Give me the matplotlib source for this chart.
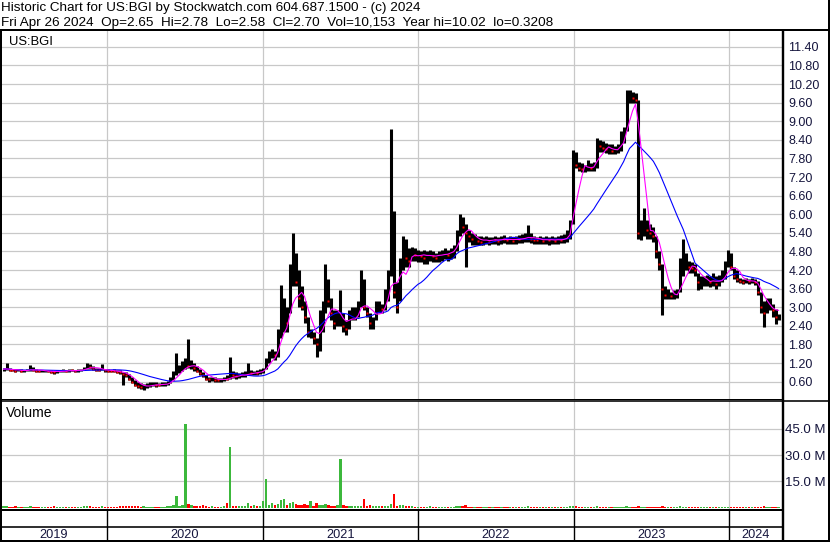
import matplotlib
matplotlib.use("Agg")
import matplotlib.pyplot as plt
from matplotlib.lines import Line2D
import numpy as np
import pandas as pd

plt.rcParams['font.family'] = ['Liberation Sans', 'DejaVu Sans']

# ---------------- data (weekly) ----------------
first_week = '2019-05-03'

high = [
    1.05, 1.20, 1.05, 1.02, 1.00, 1.01, 1.00, 0.99, 1.02, 1.15,
    1.08, 1.00, 0.99, 0.98, 0.99, 0.98, 0.96, 0.95, 0.98, 0.99,
    1.00, 0.99, 1.00, 1.01, 0.99, 1.00, 1.02, 1.08, 1.20, 1.18,
    1.12, 1.05, 1.03, 1.18, 1.02, 1.00, 0.99, 1.00, 0.98, 0.96,
    0.92, 0.90, 0.85, 0.75, 0.65, 0.60, 0.55, 0.52, 0.55, 0.58,
    0.60, 0.58, 0.56, 0.58, 0.60, 0.62, 0.75, 0.95, 1.52, 1.15,
    1.25, 1.35, 1.97, 1.30, 1.20, 1.10, 1.00, 0.92, 0.82, 0.75,
    0.76, 0.74, 0.72, 0.73, 0.75, 0.80, 1.40, 0.95, 0.90, 0.88,
    0.92, 0.95, 1.20, 0.98, 0.95, 0.96, 1.00, 1.05, 1.35, 1.60,
    1.65, 1.60, 2.30, 3.72, 3.30, 3.00, 4.40, 5.40, 4.75, 4.20,
    3.70, 3.20, 2.70, 2.30, 2.20, 2.00, 2.90, 3.20, 4.40, 3.90,
    3.30, 2.90, 2.90, 3.55, 2.80, 2.60, 2.90, 3.00, 3.00, 3.20,
    4.20, 3.90, 3.00, 2.80, 2.70, 3.20, 3.20, 3.10, 3.60, 4.20,
    8.75, 6.10, 3.80, 4.60, 5.30, 5.20, 4.90, 4.95, 4.90, 4.85,
    4.80, 4.85, 4.80, 4.85, 4.80, 4.75, 4.80, 4.85, 4.90, 4.85,
    4.90, 5.00, 5.50, 6.00, 5.90, 5.70, 5.50, 5.40, 5.35, 5.30,
    5.30, 5.28, 5.30, 5.25, 5.28, 5.30, 5.26, 5.30, 5.32, 5.28,
    5.30, 5.27, 5.30, 5.32, 5.35, 5.40, 5.65, 5.40, 5.30, 5.28,
    5.30, 5.28, 5.30, 5.27, 5.30, 5.28, 5.30, 5.32, 5.35, 5.50,
    5.80, 8.07, 8.00, 7.70, 7.65, 7.60, 7.75, 7.65, 7.70, 8.45,
    8.40, 8.35, 8.30, 8.28, 8.25, 8.20, 8.25, 8.70, 8.80, 10.00,
    10.02, 9.95, 9.90, 9.70, 5.80, 6.20, 5.80, 5.70, 5.60, 5.30,
    4.80, 4.40, 3.70, 3.60, 3.50, 3.55, 3.60, 4.60, 5.20, 4.75,
    4.50, 4.45, 4.40, 4.10, 4.00, 4.00, 4.05, 4.00, 4.10, 4.00,
    4.05, 4.20, 4.50, 4.85, 4.75, 4.30, 4.20, 3.95, 3.92, 3.95,
    3.92, 3.95, 3.90, 3.85, 3.50, 3.20, 3.30, 3.30, 3.10, 2.95,
    2.78,
]

low = [
    0.95, 0.96, 0.95, 0.93, 0.92, 0.93, 0.92, 0.91, 0.93, 0.95,
    0.94, 0.92, 0.90, 0.90, 0.91, 0.90, 0.88, 0.84, 0.89, 0.91,
    0.92, 0.91, 0.92, 0.93, 0.92, 0.92, 0.94, 0.96, 1.02, 1.02,
    0.98, 0.95, 0.94, 0.96, 0.92, 0.92, 0.91, 0.90, 0.88, 0.85,
    0.50, 0.75, 0.65, 0.55, 0.45, 0.40, 0.36, 0.33, 0.38, 0.42,
    0.45, 0.44, 0.45, 0.46, 0.47, 0.48, 0.55, 0.65, 0.80, 0.88,
    0.95, 1.00, 1.05, 1.00, 0.95, 0.90, 0.82, 0.75, 0.65, 0.60,
    0.62, 0.60, 0.58, 0.60, 0.62, 0.65, 0.70, 0.72, 0.70, 0.72,
    0.74, 0.76, 0.80, 0.80, 0.80, 0.82, 0.85, 0.88, 1.00, 1.20,
    1.35, 1.30, 1.40, 2.00, 2.20, 2.20, 2.80, 3.70, 3.70, 3.00,
    2.90, 2.50, 2.05, 2.00, 1.80, 1.40, 1.60, 2.20, 2.80, 3.00,
    2.60, 2.30, 2.40, 2.40, 2.20, 2.10, 2.30, 2.60, 2.60, 2.70,
    3.00, 2.90, 2.70, 2.30, 2.30, 2.60, 2.80, 2.80, 2.90, 3.20,
    4.00, 3.30, 2.80, 3.20, 4.20, 4.30, 4.30, 4.50, 4.50, 4.45,
    4.45, 4.40, 4.40, 4.50, 4.45, 4.45, 4.45, 4.50, 4.55, 4.50,
    4.55, 4.60, 4.80, 5.30, 5.40, 4.30, 5.10, 5.00, 5.00, 5.00,
    5.00, 5.02, 5.05, 5.00, 5.03, 5.05, 5.02, 5.05, 5.06, 5.04,
    5.05, 5.03, 5.05, 5.08, 5.08, 5.10, 5.10, 5.08, 5.05, 5.04,
    5.05, 5.03, 5.05, 5.02, 5.05, 5.04, 5.05, 5.06, 5.08, 5.10,
    5.20, 5.70, 7.50, 7.40, 7.35, 7.35, 7.40, 7.38, 7.40, 7.50,
    8.00, 8.00, 7.98, 7.95, 7.95, 7.95, 7.98, 8.05, 8.30, 8.70,
    9.60, 9.60, 9.60, 5.20, 5.17, 5.30, 5.20, 5.20, 5.10, 4.60,
    4.20, 2.75, 3.25, 3.25, 3.25, 3.25, 3.30, 3.50, 4.00, 4.20,
    4.10, 4.10, 4.00, 3.55, 3.60, 3.70, 3.70, 3.65, 3.70, 3.60,
    3.70, 3.80, 3.90, 4.30, 4.20, 3.90, 3.80, 3.78, 3.75, 3.78,
    3.76, 3.78, 3.72, 3.40, 2.80, 2.37, 2.80, 2.90, 2.70, 2.45,
    2.58,
]

close = [
    1.00, 1.02, 0.98, 0.97, 0.95, 0.98, 0.94, 0.95, 0.97, 1.05,
    0.98, 0.95, 0.93, 0.94, 0.95, 0.93, 0.92, 0.90, 0.94, 0.95,
    0.96, 0.94, 0.97, 0.96, 0.95, 0.97, 0.99, 1.04, 1.12, 1.08,
    1.02, 0.99, 0.98, 1.00, 0.96, 0.95, 0.94, 0.93, 0.92, 0.90,
    0.85, 0.80, 0.70, 0.60, 0.50, 0.45, 0.42, 0.45, 0.48, 0.50,
    0.52, 0.50, 0.49, 0.52, 0.54, 0.55, 0.70, 0.85, 1.00, 1.00,
    1.10, 1.15, 1.12, 1.15, 1.05, 0.95, 0.88, 0.80, 0.70, 0.68,
    0.70, 0.66, 0.64, 0.66, 0.70, 0.68, 0.85, 0.80, 0.78, 0.80,
    0.82, 0.85, 0.90, 0.88, 0.90, 0.89, 0.95, 1.00, 1.25, 1.50,
    1.55, 1.45, 2.00, 2.80, 2.90, 2.50, 3.40, 3.90, 3.80, 3.30,
    3.00, 2.70, 2.20, 2.25, 2.00, 1.80, 2.50, 2.80, 3.40, 3.20,
    2.80, 2.50, 2.60, 2.90, 2.40, 2.30, 2.70, 2.80, 2.90, 3.00,
    3.50, 3.00, 2.80, 2.50, 2.60, 3.00, 3.00, 2.95, 3.40, 4.00,
    5.00, 3.50, 3.00, 4.40, 4.80, 4.60, 4.50, 4.80, 4.70, 4.70,
    4.65, 4.60, 4.70, 4.70, 4.65, 4.60, 4.70, 4.75, 4.80, 4.70,
    4.80, 4.90, 5.40, 5.80, 5.60, 5.40, 5.30, 5.20, 5.20, 5.15,
    5.10, 5.18, 5.20, 5.12, 5.20, 5.18, 5.15, 5.22, 5.20, 5.16,
    5.20, 5.15, 5.22, 5.20, 5.25, 5.28, 5.30, 5.20, 5.18, 5.16,
    5.20, 5.15, 5.20, 5.16, 5.18, 5.15, 5.20, 5.18, 5.22, 5.35,
    5.70, 7.80, 7.60, 7.50, 7.45, 7.50, 7.55, 7.50, 7.60, 8.30,
    8.20, 8.15, 8.10, 8.10, 8.05, 8.05, 8.10, 8.60, 8.70, 9.80,
    9.80, 9.75, 9.70, 5.40, 5.50, 5.60, 5.50, 5.40, 5.30, 4.80,
    4.40, 3.60, 3.40, 3.40, 3.35, 3.40, 3.45, 4.30, 4.40, 4.40,
    4.30, 4.25, 4.20, 3.80, 3.80, 3.85, 3.90, 3.80, 3.90, 3.75,
    3.85, 4.00, 4.30, 4.70, 4.30, 4.00, 3.90, 3.85, 3.82, 3.88,
    3.84, 3.86, 3.80, 3.50, 3.00, 2.80, 3.10, 3.10, 2.90, 2.70,
    2.70,
]

volume_m = [
    0.8, 1.0, 0.7, 0.7, 0.8, 0.7, 0.7, 0.6, 0.7, 0.9,
    0.7, 0.6, 0.7, 0.6, 0.7, 0.6, 0.7, 0.8, 0.7, 0.6,
    0.7, 0.6, 0.7, 0.6, 0.7, 0.6, 0.7, 0.8, 1.0, 0.8,
    0.7, 0.7, 0.6, 0.8, 0.6, 0.7, 0.6, 0.7, 0.7, 0.8,
    1.2, 0.9, 0.8, 0.9, 0.8, 0.8, 0.7, 1.0, 0.7, 0.7,
    0.7, 0.6, 0.6, 0.7, 0.7, 0.8, 1.1, 1.4, 6.5, 1.2,
    1.4, 47.9, 2.2, 1.5, 1.1, 1.0, 0.9, 1.3, 0.8, 0.7,
    0.8, 0.7, 0.7, 0.7, 0.8, 2.7, 34.4, 1.2, 0.9, 0.8,
    0.9, 1.0, 2.9, 1.0, 1.4, 1.0, 1.2, 4.0, 16.5, 1.7,
    2.5, 1.4, 2.2, 4.5, 5.0, 1.7, 2.5, 3.5, 2.0, 1.7,
    1.4, 2.2, 1.4, 3.6, 1.2, 2.5, 1.7, 1.4, 2.2, 1.7,
    1.2, 1.1, 1.4, 28.0, 1.7, 1.2, 1.0, 1.0, 1.0, 1.0,
    1.2, 5.0, 1.0, 1.4, 0.9, 0.9, 0.8, 0.8, 1.0, 1.2,
    2.0, 7.9, 1.2, 1.4, 1.6, 0.9, 0.8, 0.8, 0.7, 0.7,
    0.7, 0.7, 0.7, 1.1, 0.7, 0.6, 0.6, 0.7, 0.6, 0.6,
    0.7, 0.7, 0.9, 1.0, 0.8, 1.4, 0.7, 0.6, 0.6, 0.6,
    0.6, 0.6, 0.6, 0.6, 0.6, 0.6, 0.6, 0.6, 0.6, 0.6,
    0.6, 0.6, 0.6, 0.6, 0.6, 0.7, 0.8, 0.6, 0.6, 0.6,
    0.6, 0.6, 0.6, 0.6, 0.6, 0.6, 0.6, 0.6, 0.6, 0.7,
    0.8, 1.0, 0.8, 0.6, 0.6, 0.6, 0.6, 0.6, 0.6, 0.8,
    0.7, 0.6, 0.6, 0.6, 0.6, 0.6, 0.6, 0.7, 0.7, 0.9,
    0.7, 0.6, 0.6, 1.0, 0.7, 0.7, 0.6, 0.6, 0.6, 0.7,
    0.7, 0.8, 0.6, 0.6, 0.6, 0.6, 0.6, 0.8, 0.7, 0.6,
    0.6, 0.6, 0.6, 0.6, 0.6, 0.6, 0.6, 0.6, 0.6, 0.6,
    0.6, 0.6, 0.7, 0.7, 0.6, 0.6, 0.6, 0.6, 0.6, 0.6,
    0.6, 0.6, 0.6, 0.7, 0.7, 0.8, 0.6, 0.6, 0.6, 0.6,
    0.5,
]

price_ticks = [0.60, 1.20, 1.80, 2.40, 3.00, 3.60, 4.20, 4.80, 5.40, 6.00,
               6.60, 7.20, 7.80, 8.40, 9.00, 9.60, 10.20, 10.80, 11.40]
volume_ticks = [15.0, 30.0, 45.0]
years = [2019, 2020, 2021, 2022, 2023, 2024]

header_1 = "Historic Chart for US:BGI by Stockwatch.com 604.687.1500 - (c) 2024"
header_2 = ("Fri Apr 26 2024  Op=2.65  Hi=2.78  Lo=2.58  Cl=2.70  Vol=10,153  "
            "Year hi=10.02  lo=0.3208")
symbol = "US:BGI"

# ---------------- derived ----------------
dates = pd.date_range(first_week, periods=len(close), freq='W-FRI')
hi = np.array(high)
lo = np.array(low)
cl = np.array(close)
vol = np.array(volume_m)
prev = np.concatenate([[cl[0]], cl[:-1]])
up = cl >= prev
ma_fast = pd.Series(cl).rolling(5, min_periods=1).mean().values
ma_slow = pd.Series(cl).rolling(20, min_periods=1).mean().values

# ---------------- layout (pixel based) ----------------
W, H = 830, 543
fig = plt.figure(figsize=(W / 100, H / 100), dpi=100)
fig.patch.set_facecolor('white')


def box(x0, y0, x1, y1):
    return [x0 / W, 1 - y1 / H, (x1 - x0) / W, (y1 - y0) / H]


def fx(x):
    return x / W


def fy(y):
    return 1 - y / H


xmin = pd.Timestamp('2019-04-27')
xmax = pd.Timestamp('2024-05-04')
year_starts = [pd.Timestamp(f'{y}-01-01') for y in years[1:]]
grid_col = '#c8c8c8'
lab_col = '#14143c'

# price panel
ax = fig.add_axes(box(1, 31, 782, 399))
ax.set_xlim(xmin, xmax)
ax.set_ylim(0.04, 11.91)
for t in price_ticks:
    ax.axhline(t, color=grid_col, lw=0.9, zorder=0)
for d in year_starts:
    ax.axvline(d, color=grid_col, lw=0.9, zorder=0)
ax.vlines(dates, lo, hi, color='black', lw=2.2, zorder=2)
ax.plot(dates[~up], cl[~up], ls='none', marker='s', ms=1.5, mfc='red',
        mec='none', zorder=3)
ax.plot(dates, ma_slow, color='#0000ff', lw=0.8, zorder=4)
ax.plot(dates, ma_fast, color='#ff00ff', lw=0.8, zorder=5)
ax.yaxis.tick_right()
ax.set_yticks(price_ticks)
ax.set_yticklabels([f'{t:.2f}' for t in price_ticks])
ax.tick_params(axis='y', length=0, pad=4.5, labelsize=9, labelcolor=lab_col)
ax.set_xticks([])
for s in ax.spines.values():
    s.set_visible(False)
ax.text(8 / 781, 1 - 11 / 368, symbol, transform=ax.transAxes, fontsize=9.4,
        va='center', ha='left')

# volume panel
av = fig.add_axes(box(1, 401, 782, 509))
av.set_xlim(xmin, xmax)
av.set_ylim(-0.7, 60.76)
for t in volume_ticks:
    av.axhline(t, color=grid_col, lw=0.9, zorder=0)
for d in year_starts:
    av.axvline(d, color=grid_col, lw=0.9, zorder=0)
colors = np.where(up, '#3cb83c', '#ff0000')
av.bar(dates, vol, width=5.5, color=colors, linewidth=0, zorder=2)
av.yaxis.tick_right()
av.set_yticks(volume_ticks)
av.set_yticklabels([f'{t:.1f} M' for t in volume_ticks])
av.tick_params(axis='y', length=0, pad=2.2, labelsize=9.5, labelcolor=lab_col)
av.set_xticks([])
for s in av.spines.values():
    s.set_visible(False)
av.text(5 / 781, 1 - 12 / 108, "Volume", transform=av.transAxes, fontsize=10,
        va='center', ha='left')

# date strip
ast = fig.add_axes(box(1, 509, 782, 541))
ast.set_xlim(xmin, xmax)
ast.set_ylim(32, 0)
ast.axis('off')
for d in year_starts:
    ast.plot([d, d], [0, 32], color='black', lw=1.0)
bounds = [xmin] + year_starts + [xmax]
for y, a, b in zip(years, bounds[:-1], bounds[1:]):
    mid = a + (b - a) / 2
    ast.text(mid, 25.5, str(y), ha='center', va='center', fontsize=9.2,
             color=lab_col)

# header
fig.text(fx(1), fy(8), header_1, ha='left', va='center', fontsize=9.7)
fig.text(fx(1), fy(23), header_2, ha='left', va='center', fontsize=9.7)


# frame lines
def hline(y, x0, x1, lw):
    fig.add_artist(Line2D([fx(x0), fx(x1)], [fy(y), fy(y)], color='black',
                          lw=lw * 0.72, solid_capstyle='butt'))


def vline(x, y0, y1, lw):
    fig.add_artist(Line2D([fx(x), fx(x)], [fy(y0), fy(y1)], color='black',
                          lw=lw * 0.72, solid_capstyle='butt'))


hline(30, 0, 830, 2)
hline(398.8, 0, 782, 1)
hline(401, 0, 830, 1.6)
hline(509.5, 0, 782, 2)
hline(527, 0, 782, 1.6)
hline(541, 0, 830, 2)
vline(0.8, 30, 542, 2)
vline(828.6, 0, 542, 2)
vline(782.8, 30, 542, 2.4)

fig.savefig('out.png', dpi=100, facecolor='white')
